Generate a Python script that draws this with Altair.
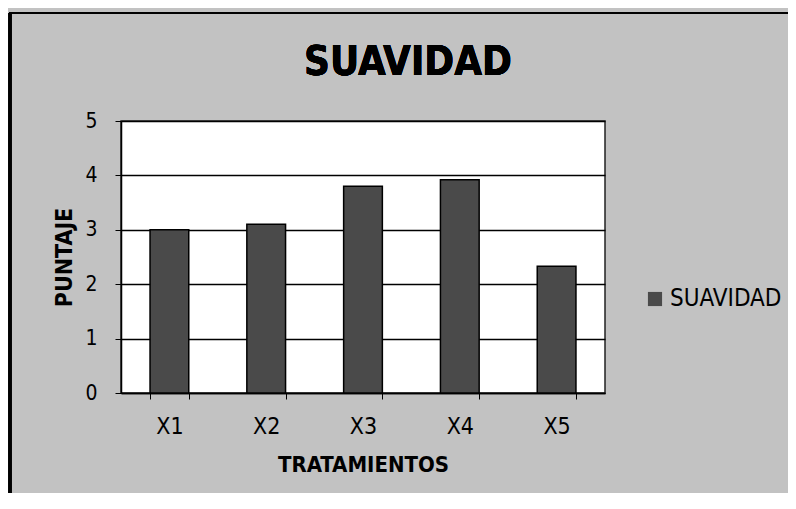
import altair as alt
import pandas as pd

categories = ["X1", "X2", "X3", "X4", "X5"]
values = [3.0, 3.1, 3.8, 3.92, 2.33]
series = ["SUAVIDAD"] * 5
chart_title = "SUAVIDAD"

df = pd.DataFrame({"TRATAMIENTOS": categories, "PUNTAJE": values, "serie": series})

FONT = "Liberation Sans Narrow, DejaVu Sans Condensed, sans-serif"

bars = alt.Chart(df).mark_bar(stroke="#000000", strokeWidth=1.5).encode(
    x=alt.X("TRATAMIENTOS:N", sort=categories,
            scale=alt.Scale(paddingInner=0.6, paddingOuter=0.3),
            axis=alt.Axis(title="TRATAMIENTOS", labelAngle=0, labelFont=FONT,
                          labelFontSize=23, labelColor="#000", labelPadding=16,
                          tickBand="extent", tickSize=6, tickColor="#000",
                          domainColor="#000", domainWidth=1.5,
                          titleFont=FONT, titleFontSize=22, titleFontWeight="bold",
                          titleColor="#000", titlePadding=16)),
    y=alt.Y("PUNTAJE:Q", scale=alt.Scale(domain=[0, 5]),
            axis=alt.Axis(title="PUNTAJE", values=[0, 1, 2, 3, 4, 5], format="d",
                          labelFont=FONT, labelFontSize=21, labelColor="#000",
                          labelPadding=18, tickSize=6, tickColor="#000",
                          domainColor="#000", domainWidth=1.5,
                          grid=True, gridColor="#000", gridWidth=1.5,
                          titleFont=FONT, titleFontSize=23, titleFontWeight="bold",
                          titleColor="#000", titlePadding=8)),
    color=alt.Color("serie:N", scale=alt.Scale(range=["#4a4a4a"]),
                    legend=alt.Legend(title=None, orient="none", legendX=522, legendY=166,
                                      labelFont=FONT, labelFontSize=24, labelColor="#000",
                                      symbolType="square", symbolSize=200,
                                      symbolStrokeWidth=0, labelOffset=3)),
)

title_text = alt.Chart(df).mark_text(
    font=FONT, fontSize=40, fontWeight="bold", color="#000",
    align="center", baseline="alphabetic"
).encode(
    x=alt.value(287), y=alt.value(-46), text=alt.value(chart_title)
)

top_line = alt.Chart(df).mark_rule(color="#000", strokeWidth=2).encode(
    x=alt.value(-112), x2=alt.value(700), y=alt.value(-108)
)
left_line = alt.Chart(df).mark_rule(color="#000", strokeWidth=3).encode(
    x=alt.value(-111), y=alt.value(-108), y2=alt.value(385)
)

chart = alt.layer(bars, title_text, top_line, left_line).properties(
    width=484, height=272,
    autosize=alt.AutoSizeParams(type="none"),
    padding={"left": 113, "top": 113, "right": 183, "bottom": 100},
    background="#c2c2c2",
).configure_view(
    fill="#ffffff", stroke="#222222", strokeWidth=1.5
)

chart.save("out.html", embed_options={"renderer": "svg", "actions": False})
